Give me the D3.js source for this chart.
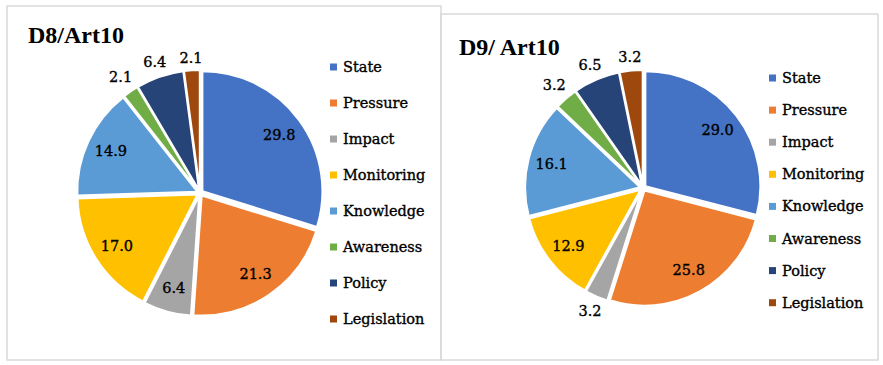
<!DOCTYPE html>
<html>
<head>
<meta charset="utf-8">
<script src="https://cdn.jsdelivr.net/npm/d3@7"></script>
<style>
  html, body { margin: 0; padding: 0; background: #fff; }
  svg { display: block; }
</style>
</head>
<body>
<svg id="chart" width="883" height="365"></svg>
<script>
// ---- data ----
const categories = ["State", "Pressure", "Impact", "Monitoring", "Knowledge", "Awareness", "Policy", "Legislation"];
const d8Values = [29.8, 21.3, 6.4, 17.0, 14.9, 2.1, 6.4, 2.1];
const d9Values = [29.0, 25.8, 3.2, 12.9, 16.1, 3.2, 6.5, 3.2];
const chartTitles = ["D8/Art10", "D9/ Art10"];
const colors = ["#4472C4", "#ED7D31", "#A5A5A5", "#FFC000", "#5B9BD5", "#70AD47", "#264478", "#9E480E"];
// which slices carry their label outside the pie
const d8Outside = ["Awareness", "Policy", "Legislation"];
const d9Outside = ["Impact", "Awareness", "Policy", "Legislation"];

// ---- layout ----
const panels = [
  { values: d8Values, title: chartTitles[0], outside: d8Outside,
    box: [7, 6, 441, 360], cx: 200, cy: 193, r: 120,
    titleX: 28, titleY: 43, legX: 330, legY: 67, legStep: 36 },
  { values: d9Values, title: chartTitles[1], outside: d9Outside,
    box: [441, 14, 878, 360], cx: 643, cy: 188, r: 115,
    titleX: 459, titleY: 55, legX: 769, legY: 78, legStep: 32.1 }
];

const svg = d3.select("#chart");
const color = d3.scaleOrdinal().domain(categories).range(colors);
const fmt = d3.format(".1f");
const serif = "'DejaVu Serif', serif";

panels.forEach(p => {
  const g = svg.append("g");
  // frame
  g.append("rect")
    .attr("x", p.box[0]).attr("y", p.box[1])
    .attr("width", p.box[2] - p.box[0]).attr("height", p.box[3] - p.box[1])
    .attr("fill", "none").attr("stroke", "#d9d9d9").attr("stroke-width", 1.5);

  // title
  g.append("text")
    .attr("x", p.titleX).attr("y", p.titleY)
    .attr("font-family", "'Liberation Serif', serif")
    .attr("font-weight", "bold").attr("font-size", 24)
    .attr("fill", "#000")
    .text(p.title);

  const data = categories.map((c, i) => ({ cat: c, value: p.values[i] }));
  const pie = d3.pie().sort(null).value(d => d.value);
  const arcs = pie(data);
  const arc = d3.arc().innerRadius(0).outerRadius(p.r);
  const explode = 3;

  const pg = g.append("g").attr("transform", `translate(${p.cx},${p.cy})`);
  pg.selectAll("path.slice")
    .data(arcs)
    .join("path")
    .attr("class", "slice")
    .attr("d", arc)
    .attr("fill", d => color(d.data.cat))
    .attr("stroke", "#fff")
    .attr("stroke-width", 2)
    .attr("transform", d => {
      const a = (d.startAngle + d.endAngle) / 2;
      return `translate(${explode * Math.sin(a)},${-explode * Math.cos(a)})`;
    });

  // value labels
  pg.selectAll("text.val")
    .data(arcs)
    .join("text")
    .attr("class", "val")
    .attr("font-family", serif)
    .attr("font-size", 14.5)
    .attr("fill", "#000")
    .attr("stroke", "#000").attr("stroke-width", 0.35)
    .attr("text-anchor", "middle")
    .attr("dominant-baseline", "central")
    .attr("transform", d => {
      const a = (d.startAngle + d.endAngle) / 2;
      const s = Math.sin(a), c = -Math.cos(a);
      let dist;
      if (p.outside.includes(d.data.cat)) {
        dist = p.r + 8 + 12 * Math.abs(s) + 7 * Math.abs(c);
      } else {
        dist = p.r * 0.82;
      }
      return `translate(${dist * s},${dist * c})`;
    })
    .text(d => fmt(d.data.value));

  // legend
  const lg = g.append("g");
  const items = lg.selectAll("g.item")
    .data(categories)
    .join("g")
    .attr("class", "item")
    .attr("transform", (d, i) => `translate(${p.legX},${p.legY + i * p.legStep})`);
  items.append("rect")
    .attr("x", 0).attr("y", -3.5)
    .attr("width", 7).attr("height", 7)
    .attr("fill", d => color(d));
  items.append("text")
    .attr("x", 13).attr("y", 0)
    .attr("dominant-baseline", "central")
    .attr("font-family", serif)
    .attr("font-size", 14.5)
    .attr("fill", "#000")
    .attr("stroke", "#000").attr("stroke-width", 0.35)
    .text(d => d);
});
</script>
</body>
</html>
